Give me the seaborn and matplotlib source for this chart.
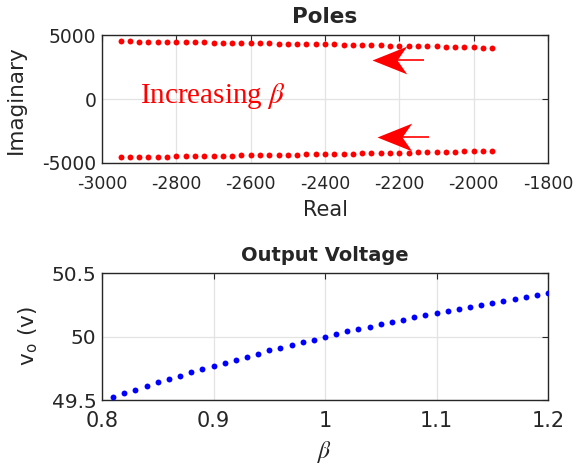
import matplotlib
matplotlib.use("Agg")
import matplotlib.pyplot as plt
from matplotlib.path import Path
import seaborn as sns
import pandas as pd

# pole locations (upper branch, conjugate pair drawn mirrored)
real_part = [-2950, -2925, -2900, -2875, -2850, -2825, -2800, -2775, -2750, -2725,
             -2700, -2675, -2650, -2625, -2600, -2575, -2550, -2525, -2500, -2475,
             -2450, -2425, -2400, -2375, -2350, -2325, -2300, -2275, -2250, -2225,
             -2200, -2175, -2150, -2125, -2100, -2075, -2050, -2025, -2000, -1975,
             -1950]
imag_part = [4540, 4531, 4521, 4512, 4502, 4492, 4482, 4472, 4462, 4451,
             4441, 4430, 4419, 4409, 4398, 4387, 4376, 4365, 4353, 4342,
             4330, 4318, 4306, 4294, 4281, 4268, 4255, 4242, 4228, 4214,
             4200, 4185, 4170, 4155, 4139, 4123, 4107, 4090, 4073, 4056,
             4038]

# output voltage vs beta
beta = [0.81, 0.82, 0.83, 0.84, 0.85, 0.86, 0.87, 0.88, 0.89, 0.90,
        0.91, 0.92, 0.93, 0.94, 0.95, 0.96, 0.97, 0.98, 0.99, 1.00,
        1.01, 1.02, 1.03, 1.04, 1.05, 1.06, 1.07, 1.08, 1.09, 1.10,
        1.11, 1.12, 1.13, 1.14, 1.15, 1.16, 1.17, 1.18, 1.19, 1.20]
vout = [49.524, 49.553, 49.579, 49.610, 49.640, 49.666, 49.690, 49.718, 49.745, 49.770,
        49.795, 49.818, 49.842, 49.866, 49.890, 49.910, 49.932, 49.955, 49.976, 49.998,
        50.018, 50.040, 50.058, 50.076, 50.095, 50.113, 50.130, 50.150, 50.166, 50.184,
        50.200, 50.218, 50.234, 50.250, 50.266, 50.280, 50.297, 50.310, 50.326, 50.340]

poles_xticks = [-3000, -2800, -2600, -2400, -2200, -2000, -1800]
poles_yticks = [-5000, 0, 5000]
v_xticks = [0.8, 0.9, 1.0, 1.1, 1.2]
v_xticklabels = ["0.8", "0.9", "1", "1.1", "1.2"]
v_yticks = [49.5, 50.0, 50.5]
v_yticklabels = ["49.5", "50", "50.5"]

sns.set_style("white")
plt.rcParams["font.family"] = ["DejaVu Sans"]
plt.rcParams["mathtext.fontset"] = "stix"
plt.rcParams["axes.unicode_minus"] = False

frame = "#262626"

poles = pd.DataFrame({"real": real_part + real_part,
                      "imag": imag_part + [-v for v in imag_part]})
volt = pd.DataFrame({"beta": beta, "v": vout})

fig = plt.figure(figsize=(5.75, 4.7), dpi=100)
ax1 = fig.add_axes([0.1774, 0.6532, 0.7757, 0.2713])
ax2 = fig.add_axes([0.1774, 0.1489, 0.7757, 0.2702])


def matlab_axes(ax):
    for s in ax.spines.values():
        s.set_color(frame)
        s.set_linewidth(1.0)
    ax.tick_params(direction="in", length=4, width=0.8, colors=frame,
                   top=True, right=True, labelcolor=frame)
    ax.grid(True, color="#e3e3e3", linewidth=0.9)
    ax.set_axisbelow(True)


sns.scatterplot(data=poles, x="real", y="imag", ax=ax1, color="red",
                s=18, linewidth=0, zorder=3)
ax1.set_xlim(-3000, -1800)
ax1.set_ylim(-5000, 5000)
ax1.set_xticks(poles_xticks)
ax1.set_yticks(poles_yticks)
matlab_axes(ax1)
ax1.tick_params(axis="x", labelsize=12.5, pad=8.5)
ax1.tick_params(axis="y", labelsize=13.5, pad=4)
ax1.set_title("Poles", fontsize=15.5, fontweight="bold", pad=9)
ax1.set_xlabel("Real", fontsize=15, color=frame, labelpad=5)
ax1.set_ylabel("Imaginary", fontsize=15.5, color=frame, labelpad=12)

ax1.text(-2898, -270, r"Increasing $\beta$", color="red", fontsize=21,
         family="Liberation Serif", va="baseline", ha="left")

# matlab-like notched arrow head, tip at the origin, pointing left
head = Path([(0, 0), (1.0, 0.4), (0.72, 0), (1.0, -0.4), (0, 0)],
            [Path.MOVETO, Path.LINETO, Path.LINETO, Path.LINETO, Path.CLOSEPOLY])
for tail, tip in [((-2134, 3080), (-2273, 3080)), ((-2119, -2940), (-2261, -2940))]:
    ax1.plot([tail[0], tip[0] + 50], [tail[1], tip[1]], color="red", lw=1.2,
             solid_capstyle="butt", zorder=4)
    ax1.plot([tip[0]], [tip[1]], marker=head, markersize=50, color="red",
             markeredgewidth=0, zorder=4)

sns.scatterplot(data=volt, x="beta", y="v", ax=ax2, color="blue",
                s=18, linewidth=0, zorder=3)
ax2.set_xlim(0.8, 1.2)
ax2.set_ylim(49.5, 50.5)
ax2.set_xticks(v_xticks)
ax2.set_xticklabels(v_xticklabels)
ax2.set_yticks(v_yticks)
ax2.set_yticklabels(v_yticklabels)
matlab_axes(ax2)
ax2.tick_params(axis="x", labelsize=15, pad=8)
ax2.tick_params(axis="y", labelsize=14.5, pad=4)
ax2.set_title("Output Voltage", fontsize=14, fontweight="bold", pad=9)
ax2.set_xlabel(r"$\beta$", fontsize=17, color=frame, labelpad=6)
ax2.set_ylabel(r"v$_\mathregular{o}$ (v)", fontsize=15.5, color=frame, labelpad=9)

fig.savefig("out.png", dpi=100)
